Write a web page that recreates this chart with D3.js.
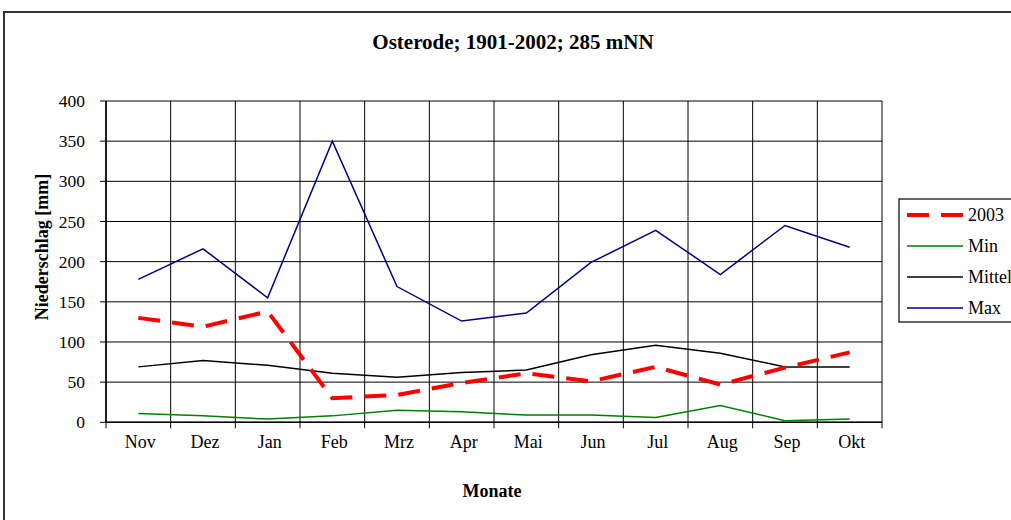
<!DOCTYPE html>
<html>
<head>
<meta charset="utf-8">
<script src="https://cdn.jsdelivr.net/npm/d3@7/dist/d3.min.js"></script>
<style>
  html, body { margin: 0; padding: 0; background: #fff; }
  svg { display: block; }
  text { font-family: "Liberation Serif", "Times New Roman", serif; fill: #000; }
</style>
</head>
<body>
<svg id="chart" width="1011" height="520"></svg>
<script>
const months = ["Nov","Dez","Jan","Feb","Mrz","Apr","Mai","Jun","Jul","Aug","Sep","Okt"];
const values2003  = [130, 119, 138, 30, 34, 49, 61, 51, 69, 47, 68, 87];
const valuesMin   = [11, 8, 4, 8, 15, 13, 9, 9, 6, 21, 2, 4];
const valuesMittel= [69, 77, 71, 61, 56, 62, 65, 84, 96, 86, 69, 69];
const valuesMax   = [178, 216, 155, 350, 169, 126, 136, 199, 239, 184, 245, 218];
const yTicks = [0, 50, 100, 150, 200, 250, 300, 350, 400];
const seriesNames = ["2003", "Min", "Mittel", "Max"];

const svg = d3.select("#chart");
const pLeft = 106, pRight = 882, pTop = 101, pBottom = 422.3;

// outer frame
svg.append("path")
  .attr("d", "M4,530 L4,12 L1020,12")
  .attr("fill", "none").attr("stroke", "#333").attr("stroke-width", 2);

const x = d3.scaleBand().domain(months).range([pLeft, pRight]);
const y = d3.scaleLinear().domain([0, 400]).range([pBottom, pTop]);

// horizontal gridlines
svg.append("g").selectAll("line").data(yTicks).join("line")
  .attr("x1", pLeft - 6).attr("x2", pRight)
  .attr("y1", d => y(d)).attr("y2", d => y(d))
  .attr("stroke", "#000").attr("stroke-width", 1);

// vertical gridlines at band boundaries
const bounds = months.map(m => x(m)).concat([pRight]);
svg.append("g").selectAll("line").data(bounds).join("line")
  .attr("x1", d => d).attr("x2", d => d)
  .attr("y1", pTop).attr("y2", pBottom + 6)
  .attr("stroke", "#000").attr("stroke-width", 1);

// axis lines
svg.append("line").attr("x1", pLeft).attr("x2", pLeft).attr("y1", pTop).attr("y2", pBottom)
  .attr("stroke", "#000").attr("stroke-width", 1.5);
svg.append("line").attr("x1", pLeft).attr("x2", pRight).attr("y1", pBottom).attr("y2", pBottom)
  .attr("stroke", "#000").attr("stroke-width", 1.5);

// y tick labels
svg.append("g").selectAll("text").data(yTicks).join("text")
  .attr("x", 85).attr("y", d => y(d)).attr("dy", "0.35em")
  .attr("text-anchor", "end").attr("font-size", 17.5)
  .text(d => d);

// x tick labels
svg.append("g").selectAll("text").data(months).join("text")
  .attr("x", d => x(d) + x.bandwidth() / 2 + 2).attr("y", 448)
  .attr("text-anchor", "middle").attr("font-size", 18)
  .text(d => d);

// title & axis titles
svg.append("text").attr("x", 513).attr("y", 49).attr("text-anchor", "middle")
  .attr("font-size", 21).attr("font-weight", "bold").text("Osterode; 1901-2002; 285 mNN");
svg.append("text").attr("x", 492).attr("y", 497).attr("text-anchor", "middle")
  .attr("font-size", 18).attr("font-weight", "bold").text("Monate");
svg.append("text").attr("transform", "translate(48,247) rotate(-90)").attr("text-anchor", "middle")
  .attr("font-size", 18).attr("font-weight", "bold").text("Niederschlag [mm]");

const line = d3.line().x((d, i) => x(months[i]) + x.bandwidth() / 2).y(d => y(d));
const styles = [
  { data: values2003, color: "#ff0000", width: 4, dash: "22,12" },
  { data: valuesMin, color: "#008000", width: 1.5, dash: null },
  { data: valuesMittel, color: "#000000", width: 1.5, dash: null },
  { data: valuesMax, color: "#000080", width: 1.5, dash: null }
];
[3, 2, 1, 0].forEach(i => {
  const s = styles[i];
  svg.append("path").datum(s.data).attr("d", line)
    .attr("fill", "none").attr("stroke", s.color).attr("stroke-width", s.width)
    .attr("stroke-dasharray", s.dash);
});

// legend
const lg = svg.append("g");
lg.append("rect").attr("x", 899).attr("y", 199).attr("width", 130).attr("height", 123)
  .attr("fill", "#fff").attr("stroke", "#000").attr("stroke-width", 1.2);
seriesNames.forEach((name, i) => {
  const s = styles[i];
  const yy = 215 + i * 31;
  lg.append("line").attr("x1", 907).attr("x2", 963).attr("y1", yy).attr("y2", yy)
    .attr("stroke", s.color).attr("stroke-width", s.width).attr("stroke-dasharray", s.dash);
  lg.append("text").attr("x", 968).attr("y", yy).attr("dy", "0.35em")
    .attr("font-size", 18).text(name);
});
</script>
</body>
</html>
